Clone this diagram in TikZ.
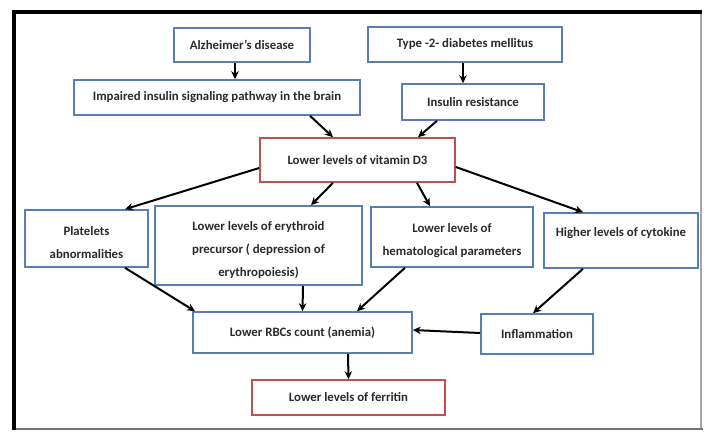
\documentclass[tikz,border=0pt]{standalone}
\usepackage{fontspec}
\usetikzlibrary{arrows.meta}
\setmainfont{Carlito}
\definecolor{boxblue}{HTML}{5B7DB5}
\definecolor{boxred}{HTML}{C0504D}
\definecolor{txtgrey}{HTML}{2A2A2A}
\newcommand{\downstrut}{\rule{0pt}{17pt}}
\newcommand{\upstrut}{\rule[-16pt]{0pt}{16pt}}
\begin{document}
\begin{tikzpicture}[x=1pt, y=-1pt, >={Stealth[length=8pt, width=7.5pt]},
  blubox/.style={draw=boxblue, line width=1.6pt, fill=white, rectangle, align=center, inner sep=2pt,
    text=txtgrey, font={\fontsize{12.8}{23}\selectfont\bfseries}},
  redbox/.style={blubox, draw=boxred},
  arr/.style={->, line width=2pt, black}]
% page and frame
\useasboundingbox (0,0) rectangle (707,432);
\fill[white] (0,0) rectangle (707,432);
\draw[line width=1.2pt, black!35] (701,11) -- (701,429);
\draw[line width=2pt, black!55] (13,429) -- (703,429);
\draw[line width=4pt, black] (14,430) -- (14,12) -- (702,12);

% boxes
\node[blubox, minimum width=136pt, minimum height=34pt] (alz) at (242,45) {Alzheimer's disease};
\node[blubox, minimum width=286pt, minimum height=35pt] (impaired) at (217,97.5) {Impaired insulin signaling pathway in the brain};
\node[blubox, minimum width=194pt, minimum height=35pt] (type2) at (465,44.5) {Type -2- diabetes mellitus};
\node[blubox, minimum width=142pt, minimum height=36pt] (insulin) at (473,102) {Insulin resistance};
\node[redbox, minimum width=195pt, minimum height=44pt] (vitd) at (357.5,160) {Lower levels of vitamin D3};
\node[blubox, minimum width=123pt, minimum height=57pt] (platelets) at (86.5,238.5) {\downstrut Platelets\\abnormalities};
\node[blubox, minimum width=207pt, minimum height=79pt] (erythroid) at (258.5,245.5) {\downstrut Lower levels of erythroid\\precursor ( depression of\\erythropoiesis)};
\node[blubox, minimum width=162pt, minimum height=60pt] (hemato) at (452,237) {\downstrut Lower levels of\\hematological parameters};
\node[blubox, minimum width=154pt, minimum height=55pt] (cytokine) at (621,240.5) {\upstrut Higher levels of cytokine};
\node[blubox, minimum width=219pt, minimum height=41pt] (rbc) at (302.5,332.5) {Lower RBCs count (anemia)};
\node[blubox, minimum width=112pt, minimum height=40pt] (inflam) at (537,334) {Inflammation};
\node[redbox, minimum width=193pt, minimum height=35pt] (ferritin) at (348.5,397.5) {Lower levels of ferritin};

% arrows
\draw[arr] ([xshift=-7pt]alz.south) -- ([xshift=18pt]impaired.north);
\draw[arr] ([xshift=-2pt]type2.south) -- ([xshift=-10pt]insulin.north);
\draw[arr] ([xshift=93pt]impaired.south) -- ([xshift=-24.5pt]vitd.north);
\draw[arr] ([xshift=-36pt]insulin.south) -- ([xshift=60.5pt]vitd.north);
\draw[arr] ([yshift=-8pt]vitd.west) -- ([xshift=38.5pt]platelets.north);
\draw[arr] ([xshift=-24.5pt]vitd.south) -- ([xshift=52.5pt]erythroid.north);
\draw[arr] ([xshift=59.5pt]vitd.south) -- ([xshift=-22pt]hemato.north);
\draw[arr] ([yshift=-7pt]vitd.east) -- ([xshift=-38pt]cytokine.north);
\draw[arr] ([xshift=38.5pt]platelets.south) -- ([xshift=-107.5pt]rbc.north);
\draw[arr] ([xshift=44.5pt]erythroid.south) -- (rbc.north);
\draw[arr] ([xshift=-47pt]hemato.south) -- ([xshift=54.5pt]rbc.north);
\draw[arr] ([xshift=-38pt]cytokine.south) -- ([xshift=-4pt]inflam.north);
\draw[arr] ([yshift=1pt]inflam.west) -- ([yshift=2.5pt]rbc.east);
\draw[arr] ([xshift=45.5pt]rbc.south) -- (ferritin.north);
\end{tikzpicture}
\end{document}
